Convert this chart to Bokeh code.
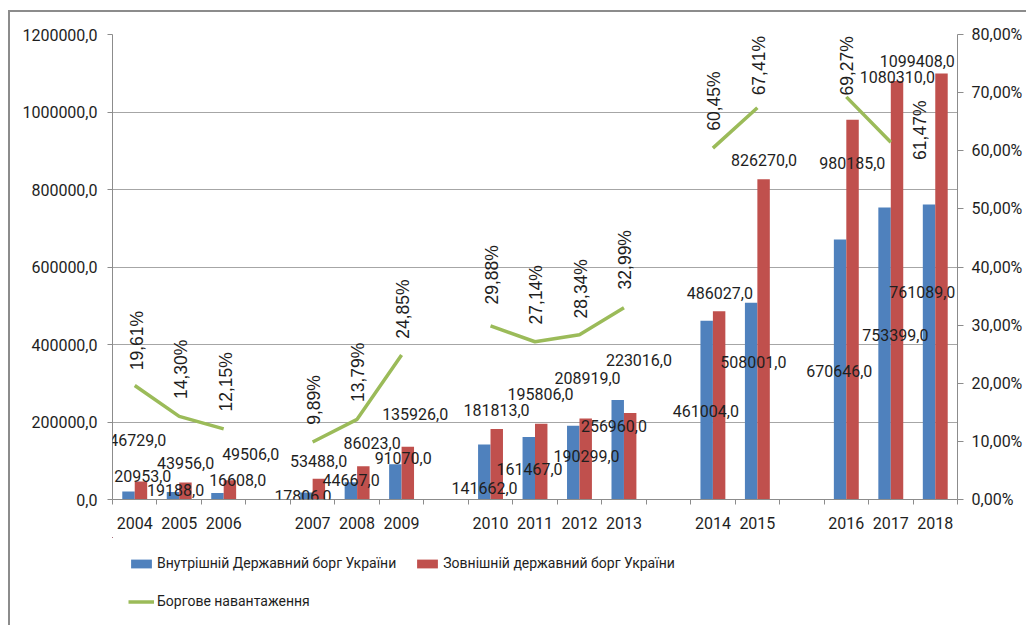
import math
from bokeh.plotting import figure
from bokeh.layouts import row, column
from bokeh.models import (ColumnDataSource, Range1d, LinearAxis, FixedTicker,
                          Legend, LegendItem, LabelSet, Spacer)
from bokeh.core.properties import value
from bokeh.embed import file_html
from bokeh.resources import INLINE

# ---------------- data ----------------
slots = ["2004", "2005", "2006", "", "2007", "2008", "2009", "",
         "2010", "2011", "2012", "2013", "", "2014", "2015", "",
         "2016", "2017", "2018"]
years = [s for s in slots if s]
internal_debt = [20953, 19188, 16608, 17806, 44667, 91070, 141662, 161467,
                 190299, 256960, 461004, 508001, 670646, 753399, 761089]
external_debt = [46729, 43956, 49506, 53488, 86023, 135926, 181813, 195806,
                 208919, 223016, 486027, 826270, 980185, 1080310, 1099408]
debt_load = [19.61, 14.30, 12.15, 9.89, 13.79, 24.85, 29.88, 27.14,
             28.34, 32.99, 60.45, 67.41, 69.27, 61.47, None]
left_ticks = [0, 200000, 400000, 600000, 800000, 1000000, 1200000]
right_ticks = [0, 10, 20, 30, 40, 50, 60, 70, 80]

series_names = ["Внутрішній Державний борг України",
                "Зовнішній державний борг України",
                "Боргове навантаження"]

# ---------------- label layout (screen px offsets, + = down/right) ----------------
blue_dx = [8, -3.6, 14, -9.7, -6, 1.6, -6, -5.5, 7, -10, -7, -4, -7, 4.6, -13]
blue_dy = [-15, -1.6, -12.6, 3, -2, -6, 43, 32, 30.5, 26, 90, 59, 131, 127, 87]
red_dx = [3, 6.4, 27, 6, 15, 13.6, 6, 5.5, 8, 15, 7, 6.7, 6, 6.6, -18]
red_dy = [-41, -19, -26, -18, -23, -32.5, -19, -30, -41, -53, -18, -19, 43, -4, -12.6]
pct_dx = [2, 1.5, 2, 1.5, 1, 1, 1, 1, 2, 1, 1, 1.5, 1, 29]
pct_dy = [-45, -47, -47, -42, -47, -46, -51, -47, -46, -48, -47, -42, -31, -12]

BLUE = "#4f81bd"
RED = "#c0504d"
GREEN = "#9bbb59"
TXT = "#1e1e1e"
AX = "#8c8c8c"
GRID = "#a6a6a6"

# ---------------- derived ----------------
year_pos = [slots.index(y) + 0.5 for y in years]
load_by_year = dict(zip(years, debt_load))
line_x = [i + 0.5 for i in range(len(slots))]
line_y = [(load_by_year.get(s) if (s and load_by_year.get(s) is not None) else float("nan"))
          for s in slots]


def fmt_num(v):
    return f"{v},0"


def fmt_pct(v):
    return f"{v:.2f}".replace(".", ",") + "%"


p = figure(frame_width=843, frame_height=463, x_range=Range1d(0, len(slots)),
           y_range=Range1d(0, 1200000), output_backend="svg",
           toolbar_location=None, min_border_left=102, min_border_right=71,
           min_border_top=22, min_border_bottom=40,
           styles={"border-left": "2px solid #8c8c8c",
                   "border-top": "2px solid #8c8c8c"})
p.extra_y_ranges = {"pct": Range1d(0, 80)}
p.outline_line_color = None
p.background_fill_color = "white"
p.border_fill_color = "white"

bw = 0.28
p.vbar(x=[x - bw / 2 for x in year_pos], top=internal_debt, width=bw,
       fill_color=BLUE, line_color=None)
p.vbar(x=[x + bw / 2 for x in year_pos], top=external_debt, width=bw,
       fill_color=RED, line_color=None)
p.line(x=line_x, y=line_y, y_range_name="pct", line_color=GREEN, line_width=3.5)

# axes
xa = p.xaxis[0]
xa.ticker = FixedTicker(ticks=year_pos, minor_ticks=list(range(len(slots) + 1)))
xa.major_label_overrides = {pos: y for pos, y in zip(year_pos, years)}
xa.major_tick_out = 0
xa.major_tick_in = 0
xa.minor_tick_out = 5
xa.minor_tick_in = 0
xa.minor_tick_line_color = AX
xa.axis_line_color = AX
xa.major_label_standoff = 12

ya = p.yaxis[0]
ya.ticker = FixedTicker(ticks=left_ticks)
ya.major_label_overrides = {t: fmt_num(t) for t in left_ticks}
ya.minor_tick_line_color = None
ya.major_tick_out = 5
ya.major_tick_in = 0
ya.major_label_standoff = 10
ya.axis_line_color = AX
ya.major_tick_line_color = AX

ra = LinearAxis(y_range_name="pct", ticker=FixedTicker(ticks=right_ticks))
ra.major_label_overrides = {t: f"{t},00%" for t in right_ticks}
ra.minor_tick_line_color = None
ra.major_tick_out = 6
ra.major_tick_in = 0
ra.major_label_standoff = 8
ra.axis_line_color = AX
ra.major_tick_line_color = AX
p.add_layout(ra, "right")

for ax in (xa, ya, ra):
    ax.major_label_text_font = "Roboto"
    ax.major_label_text_font_size = "16px"
    ax.major_label_text_color = TXT

p.xgrid.grid_line_color = None
p.ygrid.ticker = FixedTicker(ticks=left_ticks)
p.ygrid.grid_line_color = GRID

# bar value labels (LabelSet: y_offset + = up)
for vals, dxs, dys in ((internal_debt, blue_dx, blue_dy), (external_debt, red_dx, red_dy)):
    src = ColumnDataSource(dict(x=year_pos, y=vals, t=[fmt_num(v) for v in vals],
                                dx=dxs, dy=[-d for d in dys]))
    p.add_layout(LabelSet(x="x", y="y", text="t", x_offset="dx", y_offset="dy", source=src,
                          text_align="center", text_baseline="middle",
                          text_font=value("Roboto"), text_font_size="16px",
                          text_color=TXT))

pct_years = [y for y in years if load_by_year[y] is not None]
pct_vals = [load_by_year[y] for y in pct_years]
src_p = ColumnDataSource(dict(x=[slots.index(y) + 0.5 for y in pct_years], y=pct_vals,
                              t=[fmt_pct(v) for v in pct_vals],
                              dx=pct_dx, dy=[-d for d in pct_dy]))
p.add_layout(LabelSet(x="x", y="y", text="t", x_offset="dx", y_offset="dy", source=src_p,
                      y_range_name="pct", angle=math.pi / 2, text_align="center",
                      text_baseline="middle", text_font=value("Liberation Sans"),
                      text_font_size="17.5px", text_color=TXT))

# ---------------- legend strip below the chart ----------------
# the same series drawn again, kept well outside this strip's visible ranges,
# so that the legend can show their glyphs
lg = figure(width=1016, height=88, x_range=Range1d(1000, 1001), y_range=Range1d(-2, -1),
            output_backend="svg", toolbar_location=None, min_border=0,
            x_axis_location=None, y_axis_location=None,
            styles={"border-left": "2px solid #8c8c8c"})
lg.outline_line_color = None
lg.grid.grid_line_color = None
lb = lg.vbar(x=[x - bw / 2 for x in year_pos], top=internal_debt, width=bw,
             fill_color=BLUE, line_color=None)
lr = lg.vbar(x=[x + bw / 2 for x in year_pos], top=external_debt, width=bw,
             fill_color=RED, line_color=None)
ll = lg.line(x=line_x, y=line_y, line_color=GREEN, line_width=3.5)
leg = Legend(items=[LegendItem(label=series_names[0], renderers=[lb]),
                    LegendItem(label=series_names[1], renderers=[lr]),
                    LegendItem(label=series_names[2], renderers=[ll])],
             orientation="horizontal", ncols=2, location=(16, 14),
             padding=0, margin=0, spacing=18,
             glyph_width=26, glyph_height=11, label_standoff=3, label_height=20,
             border_line_color=None, background_fill_alpha=0,
             label_text_font="Liberation Sans Narrow, Roboto",
             label_text_font_size="14px", label_text_color=TXT)
lg.add_layout(leg)

layout = row(Spacer(width=8, height=10), column(Spacer(width=10, height=10), p, lg))
open("out.html", "w").write(file_html(layout, INLINE))
